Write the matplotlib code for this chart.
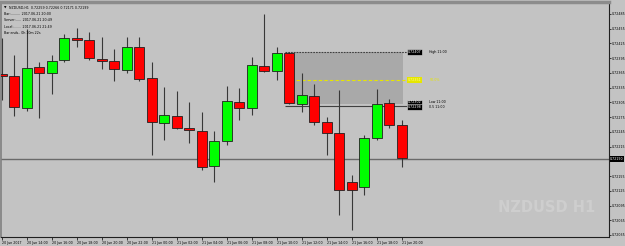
import matplotlib
matplotlib.use('Agg')
import matplotlib.pyplot as plt
from matplotlib.patches import Rectangle

# ---------------- data ----------------
time_labels = ["20 Jun 2017", "20 Jun 14:00", "20 Jun 16:00", "20 Jun 18:00", "20 Jun 20:00",
               "20 Jun 22:00", "21 Jun 00:00", "21 Jun 02:00", "21 Jun 04:00", "21 Jun 06:00",
               "21 Jun 08:00", "21 Jun 10:00", "21 Jun 12:00", "21 Jun 14:00", "21 Jun 16:00",
               "21 Jun 18:00", "21 Jun 20:00"]
opens = [0.72363, 0.72359, 0.72293, 0.72377, 0.72365, 0.72391, 0.72436, 0.72432, 0.72393, 0.72389,
         0.72370, 0.72418, 0.72354, 0.72264, 0.72277, 0.72253, 0.72247, 0.72175, 0.72226, 0.72306,
         0.72294, 0.72379, 0.72369, 0.72405, 0.72302, 0.72319, 0.72265, 0.72243, 0.72143, 0.72133,
         0.72233, 0.72303, 0.72259]
highs = [0.72437, 0.72402, 0.72454, 0.72387, 0.72402, 0.72444, 0.72456, 0.72448, 0.72439, 0.72414,
         0.72439, 0.72439, 0.72387, 0.72336, 0.72329, 0.72306, 0.72286, 0.72247, 0.72338, 0.72335,
         0.72398, 0.72484, 0.72418, 0.72407, 0.72365, 0.72342, 0.72276, 0.72330, 0.72157, 0.72239,
         0.72332, 0.72312, 0.72269]
lows = [0.72310, 0.72278, 0.72288, 0.72274, 0.72322, 0.72387, 0.72417, 0.72391, 0.72373, 0.72349,
        0.72365, 0.72349, 0.72198, 0.72228, 0.72251, 0.72223, 0.72167, 0.72143, 0.72218, 0.72269,
        0.72279, 0.72367, 0.72351, 0.72302, 0.72286, 0.72259, 0.72198, 0.72076, 0.72045, 0.72116,
        0.72228, 0.72253, 0.72173]
closes = [0.72358, 0.72295, 0.72376, 0.72365, 0.72390, 0.72437, 0.72433, 0.72395, 0.72389, 0.72373,
          0.72417, 0.72352, 0.72266, 0.72279, 0.72253, 0.72249, 0.72173, 0.72226, 0.72308, 0.72294,
          0.72381, 0.72368, 0.72405, 0.72303, 0.72320, 0.72265, 0.72243, 0.72127, 0.72127, 0.72233,
          0.72301, 0.72259, 0.72192]
price_ticks = [0.72485, 0.72455, 0.72425, 0.72395, 0.72365, 0.72335, 0.72305, 0.72275, 0.72245,
               0.72215, 0.72155, 0.72125, 0.72095, 0.72065, 0.72035]
current_price = 0.72190
zone_high = 0.72407
zone_low = 0.72302
zone_mid = 0.72351
zone_low_line = 0.72298
zone_start = 22.66
zone_end = 32.1
line_end = 32.4

# ---------------- figure ----------------
BG = '#c3c3c3'
FS = 2.35
fig = plt.figure(figsize=(6.25, 2.46), dpi=100, facecolor=BG)
ax = fig.add_axes([1.5/625, 9/246, 607.5/625, 235/246])
ax.set_facecolor(BG)
ax.set_xlim(-0.016, 48.58)
ax.set_ylim(0.720309, 0.725094)

# zone rectangle
ax.add_patch(Rectangle((zone_start, zone_low), zone_end - zone_start, zone_high - zone_low,
                       facecolor='#a9a9a9', edgecolor='none', zorder=1))
ax.hlines(zone_high, zone_start, line_end, colors='#404040', linestyles=(0, (1.5, 1)), lw=0.8, zorder=2)
ax.hlines(zone_low_line, zone_start, line_end, colors='#404040', lw=0.8, zorder=2)
ax.hlines(zone_mid, zone_start, line_end, colors='#e6e600', linestyles=(0, (3, 2)), lw=0.8, zorder=2)

# horizontal line (current price)
ax.axhline(current_price, color='#6a6a6a', lw=1.0, zorder=1.5)

# candles
xs = list(range(len(opens)))
ax.vlines(xs, lows, highs, colors='#383838', lw=0.8, zorder=3)
bottoms = [min(o, c) for o, c in zip(opens, closes)]
heights = [max(abs(c - o), 0.00004) for o, c in zip(opens, closes)]
colors = ['#00ff00' if c >= o else '#ff0000' for o, c in zip(opens, closes)]
ax.bar(xs, heights, bottom=bottoms, width=0.78, color=colors, edgecolor='#202020',
       linewidth=0.6, zorder=4)

# zone labels
lab_x = 32.45
ax.text(lab_x, zone_high, '0.72407', fontsize=FS, color='white', va='center', ha='left',
        bbox=dict(boxstyle='square,pad=0.25', fc='black', ec='#e0e0e0', lw=0.4), zorder=6)
ax.text(lab_x + 1.75, zone_high, 'High 11:00', fontsize=FS, color='black', va='center', ha='left', zorder=6)
ax.text(lab_x, zone_mid, '0.72351', fontsize=FS, color='#ffff90', va='center', ha='left',
        bbox=dict(boxstyle='square,pad=0.25', fc='#e6e600', ec='none'), zorder=6)
ax.text(lab_x + 1.75, zone_mid, '50.0%', fontsize=FS, color='#e6e600', va='center', ha='left', zorder=6)
ax.text(lab_x, zone_low + 0.00003, '0.72302', fontsize=FS, color='white', va='center', ha='left',
        bbox=dict(boxstyle='square,pad=0.25', fc='black', ec='#e0e0e0', lw=0.4), zorder=6)
ax.text(lab_x, zone_low - 0.00007, '0.72298', fontsize=FS, color='white', va='center', ha='left',
        bbox=dict(boxstyle='square,pad=0.25', fc='black', ec='#e0e0e0', lw=0.4), zorder=6)
ax.text(lab_x + 1.75, zone_low + 0.00003, 'Low 11:00', fontsize=FS, color='black', va='center', ha='left', zorder=6)
ax.text(lab_x + 1.75, zone_low - 0.00007, '0.5 11:00', fontsize=FS, color='black', va='center', ha='left', zorder=6)

# watermark
ax.text(0.897, 0.125, 'NZDUSD H1', transform=ax.transAxes, fontsize=10.5, fontweight='bold',
        family='Liberation Sans Narrow', color='#cecece', ha='center', va='center', zorder=0.5)

# info text top-left
info = ["NZDUSD,H1  0.72259 0.72266 0.72171 0.72199",
        "Bar:.........  2017.06.21 20:00",
        "Server:.....  2017.06.21 20:49",
        "Local:.......  2017.06.21 21:49",
        "Bar ends.. 0h 10m 22s"]
ax.text(0.0035, 0.985, '\u25bc', transform=ax.transAxes, fontsize=FS, va='top', ha='left')
for i, line in enumerate(info):
    ax.text(0.012 if i == 0 else 0.004, 0.985 - i * 0.027, line, transform=ax.transAxes,
            fontsize=FS, va='top', ha='left', color='black')

# axes / ticks
ax.set_xticks(xs[::2])
ax.set_xticklabels(time_labels, fontsize=FS, ha='left')
ax.tick_params(axis='x', length=2.5, width=0.5, pad=0.6, colors='black')
ax.yaxis.tick_right()
ax.set_yticks(price_ticks)
ax.set_yticklabels([f'{p:.5f}' for p in price_ticks], fontsize=FS)
ax.tick_params(axis='y', length=1.5, width=0.5, pad=0.5, colors='black')

# current price label
ax.text(1.002, current_price, f'{current_price:.5f}', transform=ax.get_yaxis_transform(),
        fontsize=FS, color='white', va='center', ha='left',
        bbox=dict(boxstyle='square,pad=0.2', fc='black', ec='none'), clip_on=False, zorder=7)

ax.spines['left'].set_color('#808080'); ax.spines['left'].set_linewidth(1.2)
ax.spines['top'].set_color('#8c8c8c'); ax.spines['top'].set_linewidth(2.5)
ax.spines['bottom'].set_color('#202020'); ax.spines['bottom'].set_linewidth(0.8)
ax.spines['right'].set_color('#202020'); ax.spines['right'].set_linewidth(0.8)

fig.savefig('out.png', dpi=100, facecolor=BG)
